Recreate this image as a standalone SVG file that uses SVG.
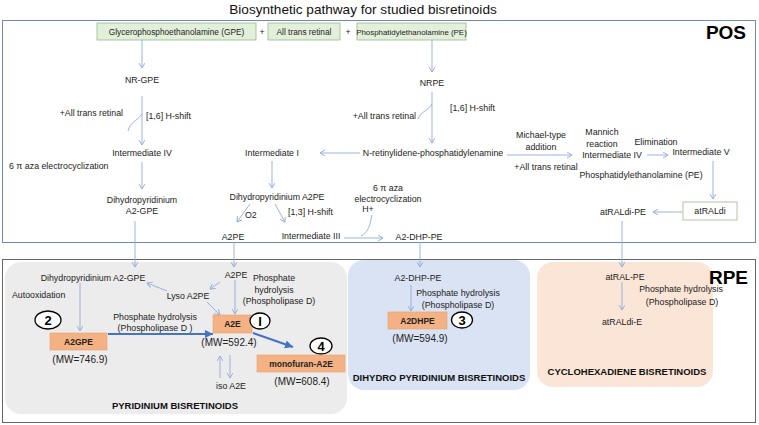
<svg xmlns="http://www.w3.org/2000/svg" width="759" height="425" viewBox="0 0 759 425">
<defs>
<marker id="ah" markerUnits="userSpaceOnUse" markerWidth="8" markerHeight="8" refX="5" refY="3" orient="auto"><path d="M0,0 L5,3 L0,6" fill="none" stroke="#8eaadb" stroke-width="0.9"/></marker>
<marker id="ahb" markerUnits="userSpaceOnUse" markerWidth="10" markerHeight="10" refX="8" refY="4" orient="auto"><path d="M0,0 L8,4 L0,8 Z" fill="#4472c4"/></marker>
</defs>
<style>
text{font-family:"Liberation Sans",Arial,sans-serif;font-size:8.8px;fill:#222}
.c{text-anchor:middle}
.e{text-anchor:end}
.h{font-weight:bold;font-size:9.5px;fill:#111}
.big{font-weight:bold;font-size:19px;fill:#000}
.bx{font-weight:bold;font-size:8.5px;fill:#222}
.gt{font-size:8.3px}
.mw{font-size:10px;fill:#222}
.num{font-weight:bold;font-size:13px;fill:#000;text-anchor:middle}
.g{fill:#e2efda;stroke:#9ab98a;stroke-width:0.8}
.o{fill:#f4b183;stroke:#e9a06d;stroke-width:0.6}
.ln{stroke:#8eaadb;stroke-width:0.9;fill:none;marker-end:url(#ah)}
.pl{stroke:#8eaadb;stroke-width:0.9;fill:none}
.tk{stroke:#4472c4;stroke-width:2;fill:none;marker-end:url(#ahb)}
.ci{fill:#fff;stroke:#000;stroke-width:1.3}
</style>
<rect width="759" height="425" fill="#fff"/>
<text x="363" y="14" class="c" style="font-size:13.6px;fill:#111">Biosynthetic pathway for studied bisretinoids</text>

<g id="pos-region">
<rect x="2.5" y="20.5" width="753" height="222" fill="none" stroke="#6f89bd" stroke-width="1"/>
<text x="746" y="39" class="big e">POS</text>
</g>
<g id="rpe-region">
<rect x="2.5" y="259.5" width="753" height="163" fill="none" stroke="#666" stroke-width="1"/>
<rect x="5" y="262" width="342" height="152" rx="16" fill="#ececec"/>
<rect x="348" y="260" width="182" height="130" rx="16" fill="#dae3f3"/>
<rect x="537" y="262" width="176" height="125" rx="16" fill="#fbe5d6"/>
<text x="748" y="284" class="big e">RPE</text>
<text x="175" y="409" class="h c">PYRIDINIUM BISRETINOIDS</text>
<text x="439" y="381" class="h c">DIHYDRO PYRIDINIUM BISRETINOIDS</text>
<text x="627" y="375" class="h c">CYCLOHEXADIENE BISRETINOIDS</text>
</g>

<g id="connectors">
<line x1="142" y1="40" x2="142" y2="68" class="ln"/>
<line x1="142" y1="96" x2="142" y2="145" class="ln"/>
<path d="M128,131 C130,122 136,122 142,114" class="pl"/>
<line x1="142" y1="162" x2="142" y2="189" class="ln"/>
<line x1="135" y1="221" x2="135" y2="267" class="ln"/>
<line x1="432" y1="40" x2="432" y2="72" class="ln"/>
<line x1="432" y1="92" x2="432" y2="143" class="ln"/>
<path d="M418,119 C421,111 427,112 432,104" class="pl"/>
<line x1="360" y1="153" x2="320" y2="153" class="ln"/>
<line x1="272" y1="161" x2="272" y2="188" class="ln"/>
<line x1="250" y1="204" x2="237" y2="222" class="ln"/>
<line x1="275" y1="204" x2="285" y2="222" class="ln"/>
<line x1="344" y1="238" x2="383" y2="238" class="ln"/>
<path d="M361,236 C369,232 370,224 372,215" class="pl"/>
<line x1="234" y1="242" x2="234" y2="267" class="ln"/>
<line x1="420" y1="242" x2="420" y2="267" class="ln"/>
<line x1="507" y1="155" x2="572" y2="155" class="ln"/>
<line x1="647" y1="155" x2="668" y2="155" class="ln"/>
<line x1="713" y1="161" x2="713" y2="199" class="ln"/>
<line x1="682" y1="212" x2="653" y2="212" class="ln"/>
<line x1="622" y1="221" x2="622" y2="267" class="ln"/>
<line x1="80" y1="283" x2="80" y2="331" class="ln"/>
<line x1="167" y1="291" x2="147" y2="283" class="ln"/>
<line x1="220" y1="282" x2="210" y2="289" class="ln"/>
<line x1="207" y1="302" x2="220" y2="315" class="ln"/>
<line x1="235" y1="280" x2="235" y2="314" class="ln"/>
<line x1="220" y1="378" x2="220" y2="356" class="ln"/>
<line x1="230" y1="355" x2="230" y2="378" class="ln"/>
<line x1="108" y1="334" x2="213" y2="334" class="tk"/>
<line x1="253" y1="333" x2="293" y2="347" class="tk"/>
<line x1="411" y1="285" x2="411" y2="311" class="ln"/>
<line x1="622" y1="282" x2="622" y2="310" class="ln"/>
</g>

<g id="n-gpe"><rect x="97" y="23" width="159" height="17" class="g"/><text x="176.5" y="35" class="c gt">Glycerophosphoethanolamine (GPE)</text></g>
<g id="plus1"><text x="262" y="35" class="c">+</text></g>
<g id="n-atr"><rect x="268" y="23" width="72" height="17" class="g"/><text x="304" y="35" class="c gt">All trans retinal</text></g>
<g id="plus2"><text x="348" y="35" class="c">+</text></g>
<g id="n-pe"><rect x="357" y="23" width="109" height="17" class="g"/><text x="411.5" y="35" class="c" style="font-size:7.9px">Phosphatidylethanolamine (PE)</text></g>

<g id="n-nrgpe"><text x="142" y="83" class="c">NR-GPE</text></g>
<g id="l-left-atr"><text x="123" y="116" class="e">+All trans retinal</text><text x="146" y="119">[1,6] H-shift</text></g>
<g id="n-int4l"><text x="142" y="156" class="c">Intermediate IV</text></g>
<g id="l-6pi-l"><text x="9" y="169">6 π aza electrocyclization</text></g>
<g id="n-dhp-a2gpe"><text x="142" y="203" class="c">Dihydropyridinium</text><text x="142" y="214" class="c">A2-GPE</text></g>

<g id="n-nrpe"><text x="432" y="86" class="c">NRPE</text></g>
<g id="l-mid-atr"><text x="416" y="119" class="e">+All trans retinal</text><text x="450" y="111">[1,6] H-shift</text></g>
<g id="n-nret"><text x="433" y="156" class="c">N-retinylidene-phosphatidylenamine</text></g>
<g id="n-int1"><text x="272" y="156" class="c">Intermediate I</text></g>
<g id="n-dhp-a2pe"><text x="277" y="200" class="c">Dihydropyridinium A2PE</text></g>
<g id="l-o2"><text x="245" y="218">O2</text><text x="288" y="215">[1,3] H-shift</text></g>
<g id="n-a2pe"><text x="233" y="240" class="c">A2PE</text></g>
<g id="n-int3"><text x="311" y="239" class="c">Intermediate III</text></g>
<g id="l-6pi-m"><text x="388" y="191" class="c">6 π aza</text><text x="388" y="202" class="c">electrocyclization</text><text x="368" y="212" class="c">H+</text></g>
<g id="n-a2dhppe"><text x="419" y="240" class="c">A2-DHP-PE</text></g>

<g id="l-michael"><text x="541" y="138" class="c">Michael-type</text><text x="541" y="150" class="c">addition</text><text x="546" y="170" class="c">+All trans retinal</text></g>
<g id="n-int4r"><text x="602" y="135" class="c">Mannich</text><text x="602" y="147" class="c">reaction</text><text x="612" y="158" class="c">Intermediate IV</text></g>
<g id="l-elim"><text x="656" y="145" class="c">Elimination</text></g>
<g id="n-int5"><text x="701" y="155" class="c">Intermediate V</text></g>
<g id="l-pe2"><text x="641" y="178" class="c">Phosphatidylethanolamine (PE)</text></g>
<g id="n-atraldi"><rect x="683" y="202" width="54" height="18" fill="#fff" stroke="#9ab98a" stroke-width="0.8"/><text x="710" y="214" class="c">atRALdi</text></g>
<g id="n-atraldipe"><text x="623" y="215" class="c">atRALdi-PE</text></g>

<g id="n-dhp-a2gpe-r"><text x="93" y="281" class="c">Dihydropyridinium  A2-GPE</text></g>
<g id="l-autoox"><text x="12" y="298">Autooxidation</text></g>
<g id="n-a2gpe"><ellipse cx="48" cy="320" rx="13" ry="9" class="ci"/><text x="48" y="325" class="num">2</text><rect x="50" y="333" width="57" height="17" class="o"/><text x="78.5" y="344.5" class="bx c">A2GPE</text><text x="80" y="363" class="mw c">(MW=746.9)</text></g>
<g id="l-ph1"><text x="155" y="320" class="c">Phosphate hydrolysis</text><text x="155" y="331" class="c">(Phospholipase D )</text></g>
<g id="n-lyso"><text x="188" y="299" class="c">Lyso A2PE</text></g>
<g id="n-a2pe-r"><text x="236" y="278" class="c">A2PE</text></g>
<g id="l-ph2"><text x="274" y="281" class="c">Phosphate</text><text x="274" y="293" class="c">hydrolysis</text><text x="279" y="304" class="c">(Phospholipase D)</text></g>
<g id="n-a2e"><rect x="213" y="315" width="39" height="18" class="o"/><text x="232.5" y="327" class="bx c">A2E</text><ellipse cx="260" cy="321" rx="10" ry="8" class="ci"/><text x="260" y="326" class="num">I</text><text x="229" y="346" class="mw c">(MW=592.4)</text></g>
<g id="n-isoa2e"><text x="231" y="389" class="c">iso A2E</text></g>
<g id="n-mono"><ellipse cx="321" cy="346" rx="11" ry="8" class="ci"/><text x="321" y="351" class="num">4</text><rect x="257" y="355" width="88" height="17" class="o"/><text x="301" y="366.5" class="bx c">monofuran-A2E</text><text x="302" y="385" class="mw c">(MW=608.4)</text></g>

<g id="n-a2dhppe-r"><text x="418" y="281" class="c">A2-DHP-PE</text><text x="458" y="296" class="c">Phosphate hydrolysis</text><text x="458" y="308" class="c">(Phospholipase D)</text></g>
<g id="n-a2dhpe"><rect x="388" y="312" width="59" height="17" class="o"/><text x="417.5" y="323.5" class="bx c">A2DHPE</text><ellipse cx="462" cy="320" rx="10.5" ry="8" class="ci"/><text x="462" y="325" class="num">3</text><text x="420" y="342" class="mw c">(MW=594.9)</text></g>

<g id="n-atralpe"><text x="625" y="280" class="c">atRAL-PE</text><text x="681" y="292" class="c">Phosphate hydrolysis</text><text x="682" y="305" class="c">(Phospholipase D)</text></g>
<g id="n-atraldie"><text x="622" y="325" class="c">atRALdi-E</text></g>
</svg>
